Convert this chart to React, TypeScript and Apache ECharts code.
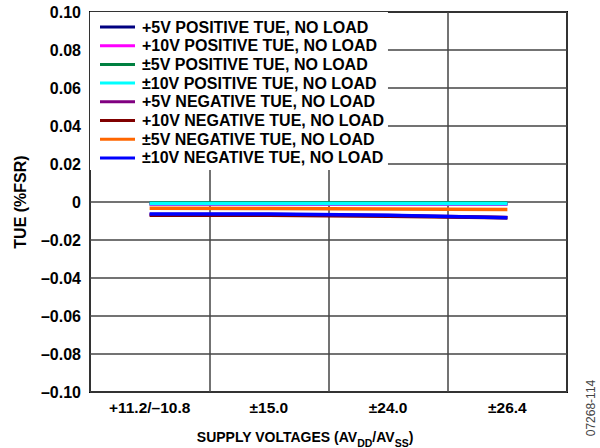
import React, { useEffect, useRef } from "react";
import * as echarts from "echarts";

const categories = ["+11.2/–10.8", "±15.0", "±24.0", "±26.4"];

const seriesNames = [
  "+5V POSITIVE TUE, NO LOAD",
  "+10V POSITIVE TUE, NO LOAD",
  "±5V POSITIVE TUE, NO LOAD",
  "±10V POSITIVE TUE, NO LOAD",
  "+5V NEGATIVE TUE, NO LOAD",
  "+10V NEGATIVE TUE, NO LOAD",
  "±5V NEGATIVE TUE, NO LOAD",
  "±10V NEGATIVE TUE, NO LOAD",
];

const seriesColors = [
  "#000080",
  "#ff00ff",
  "#008040",
  "#00ffff",
  "#800080",
  "#800000",
  "#ff6600",
  "#0000ff",
];

const pos5V = [-0.001, -0.001, -0.001, -0.001];
const pos10V = [-0.001, -0.001, -0.001, -0.001];
const posPm5V = [-0.0005, -0.0005, -0.0005, -0.0005];
const posPm10V = [-0.0008, -0.0008, -0.0008, -0.0008];
const neg5V = [-0.0066, -0.0066, -0.0071, -0.0082];
const neg10V = [-0.007, -0.007, -0.0075, -0.0083];
const negPm5V = [-0.0033, -0.0034, -0.0037, -0.004];
const negPm10V = [-0.0063, -0.0063, -0.007, -0.0083];

const seriesData = [pos5V, pos10V, posPm5V, posPm10V, neg5V, neg10V, negPm5V, negPm10V];

const yMin = -0.1;
const yMax = 0.1;
const yInterval = 0.02;

const FONT = "'Liberation Sans', Arial, Helvetica, sans-serif";

export default function App() {
  const ref = useRef<HTMLDivElement>(null);

  useEffect(() => {
    if (!ref.current) return;
    const chart = echarts.init(ref.current, undefined, { renderer: "svg" });
    const gridColor = "#444";
    chart.setOption({
      animation: false,
      backgroundColor: "#fff",
      textStyle: { fontFamily: FONT },
      grid: {
        left: 90,
        right: 33,
        top: 12,
        bottom: 56,
        outerBoundsMode: "none",
        containLabel: false,
        show: true,
        borderColor: "#000",
        borderWidth: 2,
        backgroundColor: "transparent",
      },
      legend: {
        orient: "vertical",
        left: 90,
        top: 12,
        padding: [7, 4, 4, 10],
        backgroundColor: "#fff",
        itemWidth: 35,
        itemHeight: 3,
        itemGap: 2.7,
        icon: "rect",
        data: seriesNames,
        textStyle: {
          fontFamily: FONT,
          fontSize: 16,
          fontWeight: "bold",
          color: "#000",
          lineHeight: 16,
          padding: [0, 0, 0, 2],
        },
      },
      xAxis: {
        type: "category",
        data: categories,
        boundaryGap: true,
        axisLine: { show: false },
        axisTick: { show: false },
        splitLine: { show: true, lineStyle: { color: gridColor, width: 1.5 } },
        axisLabel: {
          margin: 7,
          fontSize: 15.5,
          fontWeight: "bold",
          color: "#000",
          fontFamily: FONT,
        },
      },
      yAxis: {
        type: "value",
        min: yMin,
        max: yMax,
        interval: yInterval,
        axisLine: { show: false },
        axisTick: { show: false },
        splitLine: { show: true, lineStyle: { color: gridColor, width: 1.5 } },
        axisLabel: {
          margin: 9,
          fontSize: 16,
          fontWeight: "bold",
          color: "#000",
          fontFamily: FONT,
          formatter: (v: number) => {
            const r = Math.round(v * 100) / 100;
            if (r === 0) return "0";
            return r < 0 ? "–" + Math.abs(r).toFixed(2) : r.toFixed(2);
          },
        },
        name: "TUE (%FSR)",
        nameLocation: "middle",
        nameRotate: 90,
        nameGap: 62,
        nameTextStyle: { fontSize: 16, fontWeight: "bold", color: "#000", fontFamily: FONT },
      },
      series: seriesNames.map((name, i) => ({
        name,
        type: "line",
        data: seriesData[i],
        symbol: "none",
        color: seriesColors[i],
        lineStyle: { width: 3.5, color: seriesColors[i] },
        z: 3,
      })),
      graphic: [
        {
          type: "text",
          x: 305,
          y: 436,
          style: {
            text: "{a|SUPPLY VOLTAGES (AV}{s|DD}{a|/AV}{s|SS}{a|)}",
            align: "center",
            verticalAlign: "middle",
            rich: {
              a: { fontSize: 14, fontWeight: "bold", fill: "#000", fontFamily: FONT, verticalAlign: "bottom", lineHeight: 16 },
              s: { fontSize: 10.5, fontWeight: "bold", fill: "#000", fontFamily: FONT, verticalAlign: "bottom", lineHeight: 11, padding: [0, 0, -4, 0] },
            },
          },
        },
        {
          type: "text",
          x: 591,
          y: 408,
          rotation: Math.PI / 2,
          style: {
            text: "07268-114",
            fontSize: 12,
            fontFamily: FONT,
            fill: "#444",
            align: "center",
            verticalAlign: "middle",
          },
        },
      ],
    });
    return () => chart.dispose();
  }, []);

  return <div ref={ref} style={{ width: 600, height: 448, position: "absolute", left: 0, top: 0 }} />;
}
